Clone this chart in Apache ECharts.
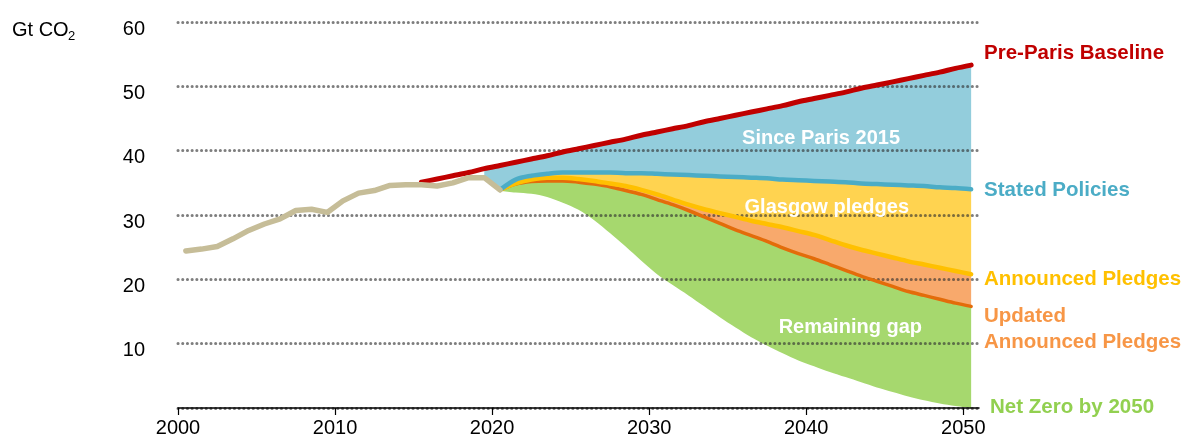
<!DOCTYPE html>
<html><head><meta charset="utf-8">
<script src="https://cdn.jsdelivr.net/npm/echarts@6/dist/echarts.min.js"></script>
<style>html,body{margin:0;padding:0;background:#fff}#c{width:1184px;height:439px}</style>
</head><body><div id="c"></div><script>
// ---- data ----
const years = [2000,2001,2002,2003,2004,2005,2006,2007,2008,2009,2010,2011,2012,2013,2014,2015,2016,2017,2018,2019,2020,2021,2022,2023,2024,2025,2026,2027,2028,2029,2030,2031,2032,2033,2034,2035,2036,2037,2038,2039,2040,2041,2042,2043,2044,2045,2046,2047,2048,2049,2050];
const xTickLabels = [2000,2010,2020,2030,2040,2050];
// historical emissions 2000-2020
const historical = [24.4,24.7,25.1,26.3,27.6,28.6,29.4,30.7,30.9,30.4,32.2,33.4,33.8,34.6,34.7,34.7,34.5,35.0,35.8,35.8,33.9];
// Pre-Paris Baseline 2015-2050
const baseline = [35.1,35.6,36.1,36.6,37.2,37.7,38.2,38.7,39.2,39.8,40.3,40.8,41.3,41.8,42.4,42.9,43.4,43.9,44.5,45.0,45.5,46.0,46.5,47.0,47.6,48.1,48.6,49.1,49.7,50.2,50.7,51.2,51.7,52.2,52.8,53.3];
// scenarios 2019-2050
const stated    = [35.8,33.9,35.5,36.1,36.4,36.6,36.6,36.6,36.6,36.5,36.5,36.4,36.3,36.2,36.1,36.0,35.9,35.8,35.7,35.5,35.4,35.3,35.2,35.1,34.9,34.8,34.7,34.6,34.5,34.3,34.2,34.0];
const announced = [35.8,33.9,34.9,35.5,35.8,35.8,35.6,35.3,34.9,34.5,33.9,33.2,32.4,31.6,30.9,30.3,29.7,29.1,28.6,28.1,27.5,26.9,26.1,25.3,24.6,24.0,23.4,22.8,22.3,21.8,21.3,20.8];
const updated   = [35.8,33.9,34.8,35.2,35.3,35.3,35.1,34.8,34.4,33.8,33.2,32.4,31.6,30.7,29.7,28.7,27.7,26.8,25.9,24.9,24.0,23.2,22.3,21.4,20.5,19.7,18.9,18.1,17.5,16.9,16.3,15.8];
const netZero   = [35.8,33.9,33.5,33.3,32.8,31.9,30.8,29.2,27.2,25.1,22.9,20.8,19.1,17.5,15.8,14.1,12.5,11.0,9.7,8.5,7.4,6.5,5.6,4.8,4.0,3.2,2.5,1.8,1.2,0.7,0.3,0.0];

const FONT = 'Liberation Sans, Arial, sans-serif';
const SMOOTH = 0.3;

function place(startYear, vals) {
  const arr = years.map(() => null);
  vals.forEach((v, i) => { arr[years.indexOf(startYear + i)] = v; });
  return arr;
}
const baseFrom2019 = baseline.slice(years.indexOf(2019) - years.indexOf(2015));
const diff = (a, b) => a.map((v, i) => +(v - b[i]).toFixed(3));
const from2020 = arr => arr.map((v, i) => (years[i] < 2020 ? null : v));

const bandBase   = place(2019, netZero);
const bandGreen  = place(2019, diff(updated, netZero));
const bandOrange = place(2019, diff(announced, updated));
const bandYellow = place(2019, diff(stated, announced));
const bandBlue   = place(2019, diff(baseFrom2019, stated));

function band(name, data, color) {
  return { name, type: 'line', stack: 'bands', data, symbol: 'none', silent: true, z: 2, smooth: SMOOTH,
    lineStyle: { width: 0 }, areaStyle: color ? { color, opacity: 1 } : undefined };
}
function line(name, data, color, width, smooth) {
  return { name, type: 'line', data, symbol: 'none', silent: true, z: 4, smooth: smooth === undefined ? SMOOTH : smooth,
    lineStyle: { color, width, cap: 'round', join: 'round' } };
}
function txt(x, y, text, fill, align, size) {
  return { type: 'text', x, y, z: 100,
    style: { text, font: 'bold ' + (size || 20.5) + 'px ' + FONT, fill, align: align || 'left', verticalAlign: 'middle' } };
}

const chart = echarts.init(document.getElementById('c'), null, { renderer: 'canvas' });
chart.setOption({
  animation: false,
  backgroundColor: '#fff',
  grid: { left: 178, right: 205, top: 22, bottom: 31 },
  xAxis: [
    { type: 'category', data: years, boundaryGap: true, show: false, position: 'top' },
    { type: 'value', min: 2000, max: 2051, position: 'bottom', z: 5,
      axisLine: { show: true, lineStyle: { color: '#000', width: 1.5 } },
      axisTick: { show: true, length: 7, customValues: xTickLabels, lineStyle: { color: '#000', width: 1.2 } },
      axisLabel: { customValues: xTickLabels, fontSize: 20, color: '#000', margin: 10, fontFamily: FONT,
        formatter: v => String(v) },
      splitLine: { show: false } }
  ],
  yAxis: { type: 'value', min: 0, max: 60, interval: 10, z: 3,
    axisLine: { show: false }, axisTick: { show: false },
    axisLabel: { fontSize: 20, color: '#000', margin: 33, verticalAlign: 'top', lineHeight: 14, fontFamily: FONT,
      formatter: v => (v === 0 ? '' : String(v)) },
    splitLine: { lineStyle: { color: '#2e2e2e', opacity: 0.62, width: 3, type: [0.1, 4.6], cap: 'round' } } },
  series: [
    band('base', bandBase, null),
    band('Remaining gap', bandGreen, '#a6d86e'),
    band('Updated gap', bandOrange, '#f8a96c'),
    band('Glasgow pledges', bandYellow, '#ffd350'),
    band('Since Paris 2015', bandBlue, '#93cddc'),
    line('Updated Announced Pledges', from2020(place(2019, updated)), '#e36c0a', 3.5),
    line('Announced Pledges', from2020(place(2019, announced)), '#ffc000', 4.5),
    line('Stated Policies', from2020(place(2019, stated)), '#4bacc6', 4.5),
    line('Pre-Paris Baseline', place(2015, baseline), '#c00000', 5),
    line('Historical', place(2000, historical), '#c6bd98', 5.5, false)
  ],
  graphic: [
    { type: 'text', x: 12, y: 30, z: 100, style: { text: 'Gt CO', font: '20px ' + FONT, fill: '#000', verticalAlign: 'middle' } },
    { type: 'text', x: 68, y: 36, z: 100, style: { text: '2', font: '13px ' + FONT, fill: '#000', verticalAlign: 'middle' } },
    txt(900, 138, 'Since Paris 2015', '#fff', 'right', 20),
    txt(909, 207, 'Glasgow pledges', '#fff', 'right', 20),
    txt(922, 327, 'Remaining gap', '#fff', 'right', 20),
    txt(984, 53, 'Pre-Paris Baseline', '#c00000'),
    txt(984, 190, 'Stated Policies', '#4bacc6'),
    txt(984, 279, 'Announced Pledges', '#ffc000'),
    txt(984, 316, 'Updated', '#f79646'),
    txt(984, 342, 'Announced Pledges', '#f79646'),
    txt(990, 407, 'Net Zero by 2050', '#92d050')
  ]
});
</script></body></html>
